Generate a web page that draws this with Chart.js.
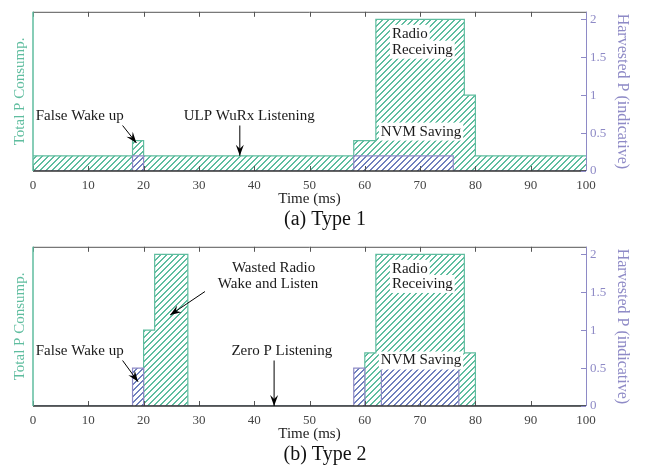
<!DOCTYPE html>
<html>
<head>
<meta charset="utf-8">
<script src="https://cdn.jsdelivr.net/npm/chart.js@4.4.0/dist/chart.umd.min.js"></script>
<style>
  body { margin: 0; background: #fff; }
  canvas { display: block; }
</style>
</head>
<body>
<canvas id="type1" width="650" height="235"></canvas>
<canvas id="type2" width="650" height="235"></canvas>
<script>
// x ticks / y ticks
var xTicks = [0, 10, 20, 30, 40, 50, 60, 70, 80, 90, 100];
var yTicks = [0, 0.5, 1, 1.5, 2];
var yTickLabels = ['0', '0.5', '1', '1.5', '2'];

// Type 1: step edges (ms) and power level held from each edge
var totalTime1 = [0, 18, 20, 58, 62, 78, 80, 100];
var totalP1 = [0.2, 0.4, 0.2, 0.4, 2, 1, 0.2, 0.2];
var harvTime1 = [0, 18, 20, 58, 76, 100];
var harvP1 = [0, 0.2, 0, 0.2, 0, 0];

// Type 2
var totalTime2 = [0, 20, 22, 28, 60, 62, 78, 80, 100];
var totalP2 = [0, 1, 2, 0, 0.7, 2, 0.7, 0, 0];
var harvTime2 = [0, 18, 20, 58, 60, 63, 77, 100];
var harvP2 = [0, 0.5, 0, 0.5, 0, 0.5, 0, 0];

var notes1 = [
  { text: 'False Wake up', x: 0.5, y: 0.72, align: 'left' },
  { arrow: [16.2, 0.6, 18.7, 0.37] },
  { text: 'ULP WuRx Listening', x: 39.1, y: 0.72, align: 'center' },
  { arrow: [37.4, 0.6, 37.4, 0.2] },
  { text: 'Radio', x: 64.9, y: 1.81, align: 'left', box: true },
  { text: 'Receiving', x: 64.9, y: 1.6, align: 'left', box: true },
  { text: 'NVM Saving', x: 62.9, y: 0.52, align: 'left', box: true }
];
var notes2 = [
  { text: 'Wasted Radio', x: 43.5, y: 1.82, align: 'center' },
  { text: 'Wake and Listen', x: 42.5, y: 1.61, align: 'center' },
  { arrow: [31.1, 1.51, 24.8, 1.2] },
  { text: 'False Wake up', x: 0.5, y: 0.72, align: 'left' },
  { arrow: [16.2, 0.6, 19.0, 0.32] },
  { text: 'Zero P Listening', x: 45, y: 0.72, align: 'center' },
  { arrow: [43.6, 0.6, 43.6, 0] },
  { text: 'Radio', x: 64.9, y: 1.81, align: 'left', box: true },
  { text: 'Receiving', x: 64.9, y: 1.61, align: 'left', box: true },
  { text: 'NVM Saving', x: 62.9, y: 0.6, align: 'left', box: true }
];

var FONT = "'Liberation Serif', 'DejaVu Serif', serif";
var green = '#5fbd9f';
var purple = '#8e8ac6';
var purpleHatch = '#6f80bd';

// crisp pixel hatch "/" tile
function hatch(ctx, color, gap, thick, bg) {
  var c = document.createElement('canvas');
  c.width = gap; c.height = gap;
  var g = c.getContext('2d');
  if (bg) { g.fillStyle = bg; g.fillRect(0, 0, gap, gap); }
  g.fillStyle = color;
  for (var i = 0; i < gap; i++) {
    for (var k = 0; k < thick; k++) {
      g.fillRect((i + k) % gap, gap - 1 - i, 1, 1);
    }
  }
  return ctx.createPattern(c, 'repeat');
}

function steps(xs, ys) {
  return xs.map(function (x, i) { return { x: x, y: ys[i] }; });
}

var frame = {
  id: 'frame',
  afterDatasetsDraw: function (chart) {
    var a = chart.chartArea, ctx = chart.ctx;
    var xs = chart.scales.x, ys = chart.scales.y;
    ctx.save();
    // top border + inward ticks
    ctx.strokeStyle = '#555';
    ctx.lineWidth = 1;
    ctx.beginPath();
    ctx.moveTo(a.left, a.top + 0.5); ctx.lineTo(a.right, a.top + 0.5);
    xTicks.forEach(function (v) {
      var px = Math.round(xs.getPixelForValue(v)) + 0.5;
      ctx.moveTo(px, a.top); ctx.lineTo(px, a.top + 5);
      ctx.moveTo(px, a.bottom); ctx.lineTo(px, a.bottom - 5);
    });
    ctx.stroke();
    // bottom axis
    ctx.strokeStyle = '#333';
    ctx.lineWidth = 1.5;
    ctx.beginPath();
    ctx.moveTo(a.left, a.bottom); ctx.lineTo(a.right, a.bottom);
    ctx.stroke();
    // left axis (green)
    ctx.strokeStyle = green;
    ctx.lineWidth = 1.5;
    ctx.beginPath();
    ctx.moveTo(a.left, a.top); ctx.lineTo(a.left, a.bottom);
    ctx.stroke();
    // right axis (purple) + ticks
    ctx.strokeStyle = purple;
    ctx.lineWidth = 1;
    ctx.beginPath();
    ctx.moveTo(a.right + 0.5, a.top); ctx.lineTo(a.right + 0.5, a.bottom);
    yTicks.forEach(function (v) {
      var py = Math.round(ys.getPixelForValue(v)) + 0.5;
      ctx.moveTo(a.right, py); ctx.lineTo(a.right - 5, py);
    });
    ctx.stroke();
    ctx.restore();
  },
  afterDraw: function (chart) {
    var ctx = chart.ctx;
    var xs = chart.scales.x, ys = chart.scales.y;
    var notes = chart.options.plugins.frame.notes;
    ctx.save();
    ctx.font = '15px ' + FONT;
    ctx.textBaseline = 'middle';
    notes.forEach(function (n) {
      if (n.arrow) {
        var x1 = xs.getPixelForValue(n.arrow[0]), y1 = ys.getPixelForValue(n.arrow[1]);
        var x2 = xs.getPixelForValue(n.arrow[2]), y2 = ys.getPixelForValue(n.arrow[3]);
        var ang = Math.atan2(y2 - y1, x2 - x1);
        var c = Math.cos(ang), s = Math.sin(ang);
        ctx.strokeStyle = '#000';
        ctx.lineWidth = 1;
        ctx.beginPath();
        ctx.moveTo(x1, y1); ctx.lineTo(x2, y2);
        ctx.stroke();
        ctx.fillStyle = '#000';
        ctx.beginPath();
        ctx.moveTo(x2, y2);
        ctx.lineTo(x2 - 11 * c + 4 * s, y2 - 11 * s - 4 * c);
        ctx.lineTo(x2 - 7 * c, y2 - 7 * s);
        ctx.lineTo(x2 - 11 * c - 4 * s, y2 - 11 * s + 4 * c);
        ctx.closePath();
        ctx.fill();
        return;
      }
      var px = xs.getPixelForValue(n.x), py = ys.getPixelForValue(n.y);
      var w = ctx.measureText(n.text).width;
      var left = n.align === 'center' ? px - w / 2 : px;
      if (n.box) {
        ctx.fillStyle = '#fff';
        ctx.fillRect(left - 2, py - 9, w + 4, 18);
      }
      ctx.fillStyle = '#1a1a1a';
      ctx.textAlign = 'left';
      ctx.fillText(n.text, left, py);
    });
    ctx.restore();
  }
};

function makeChart(id, caption, totalTime, totalP, harvTime, harvP, notes) {
  var ctx = document.getElementById(id).getContext('2d');
  return new Chart(ctx, {
    type: 'line',
    data: {
      datasets: [{
        label: 'Harvested P',
        data: steps(harvTime, harvP),
        stepped: 'before',
        fill: 'origin',
        borderColor: purple,
        borderWidth: 1.2,
        backgroundColor: hatch(ctx, purpleHatch, 6, 2, '#fff'),
        pointRadius: 0,
        yAxisID: 'y'
      }, {
        label: 'Total P',
        data: steps(totalTime, totalP),
        stepped: 'before',
        fill: 'origin',
        borderColor: green,
        borderWidth: 1.2,
        backgroundColor: hatch(ctx, green, 6, 2),
        pointRadius: 0,
        yAxisID: 'y'
      }]
    },
    options: {
      responsive: false,
      animation: false,
      layout: { padding: { top: 5, left: 0, right: 0, bottom: 0 } },
      plugins: {
        legend: { display: false },
        tooltip: { enabled: false },
        title: {
          display: true,
          text: caption,
          position: 'bottom',
          color: '#111',
          font: { family: FONT, size: 20, weight: 'normal' },
          padding: { top: 0, bottom: 3 }
        },
        frame: { notes: notes }
      },
      scales: {
        x: {
          type: 'linear',
          min: 0,
          max: 100,
          afterBuildTicks: function (s) { s.ticks = xTicks.map(function (v) { return { value: v }; }); },
          afterFit: function (s) { s.height = 37; },
          grid: { display: false, drawTicks: false },
          border: { display: false },
          ticks: { color: '#444', font: { family: FONT, size: 13 }, padding: 7, maxRotation: 0 },
          title: { display: true, text: 'Time (ms)', color: '#222', font: { family: FONT, size: 15 }, padding: { top: 0, bottom: 0 } }
        },
        yl: {
          position: 'left',
          min: 0,
          max: 2.1,
          afterFit: function (s) { s.width = 33; },
          grid: { display: false, drawTicks: false },
          border: { display: false },
          ticks: { display: false },
          title: { display: true, text: 'Total P Consump.', color: green, font: { family: FONT, size: 15 }, padding: { top: 11, bottom: 0 } }
        },
        y: {
          position: 'right',
          min: 0,
          max: 2.1,
          afterBuildTicks: function (s) { s.ticks = yTicks.map(function (v) { return { value: v }; }); },
          afterFit: function (s) { s.width = 64; },
          grid: { display: false, drawTicks: false },
          border: { display: false },
          ticks: {
            color: purple,
            font: { family: FONT, size: 13 },
            padding: 4,
            callback: function (v, i) { return yTickLabels[i]; }
          },
          title: { display: true, text: 'Harvested P (indicative)', color: purple, font: { family: FONT, size: 16 }, padding: { top: 18, bottom: 0 } }
        }
      }
    },
    plugins: [frame]
  });
}

makeChart('type1', '(a) Type 1', totalTime1, totalP1, harvTime1, harvP1, notes1);
makeChart('type2', '(b) Type 2', totalTime2, totalP2, harvTime2, harvP2, notes2);
</script>
</body>
</html>
